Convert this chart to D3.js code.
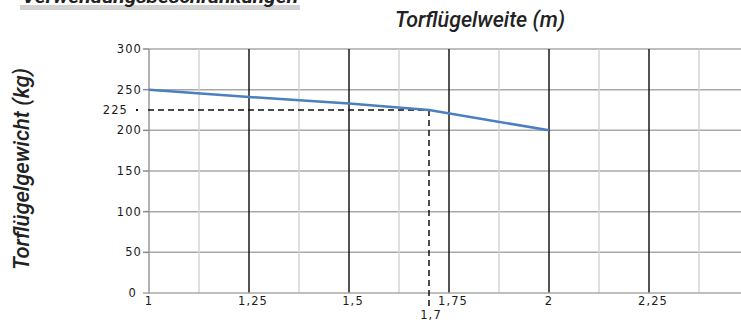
<!DOCTYPE html>
<html><head><meta charset="utf-8">
<script src="https://cdn.jsdelivr.net/npm/d3@7"></script>
<style>
html,body{margin:0;padding:0;background:#fff;}
svg{display:block;}
</style></head>
<body>
<svg id="c" width="741" height="325"></svg>
<script>
const widths = [1, 1.25, 1.5, 1.7, 2];
const weights = [250, 241, 233, 225, 200];
const xMajorTicks = [1, 1.25, 1.5, 1.75, 2, 2.25];
const xTickLabels = ["1", "1,25", "1,5", "1,75", "2", "2,25"];
const xMinorTicks = [1.125, 1.375, 1.625, 1.875, 2.125, 2.375];
const yTicks = [0, 50, 100, 150, 200, 250, 300];
const markX = 1.7, markY = 225;
const markXLabel = "1,7", markYLabel = "225";

const svg = d3.select("#c");
const x = d3.scaleLinear().domain([1, 2.48]).range([149, 741]);
const y = d3.scaleLinear().domain([0, 300]).range([293, 49]);

// cut-off heading at top
svg.append("rect").attr("x", 20).attr("y", 5).attr("width", 280).attr("height", 5).attr("fill", "#d2d2d2");
svg.append("text").attr("x", 22).attr("y", 3)
  .attr("font-family", "Roboto,'Liberation Sans',sans-serif")
  .attr("font-style", "italic").attr("font-weight", "bold").attr("font-size", 18)
  .attr("textLength", 276).attr("lengthAdjust", "spacingAndGlyphs")
  .attr("fill", "#222").text("Verwendungsbeschränkungen");

// horizontal gridlines
svg.append("g").selectAll("line").data(yTicks.filter(d => d > 0)).join("line")
  .attr("x1", x(1)).attr("x2", 741).attr("y1", d => y(d)).attr("y2", d => y(d))
  .attr("stroke", "#a8a8a8").attr("stroke-width", 1.5);

// minor vertical gridlines
svg.append("g").selectAll("line").data(xMinorTicks).join("line")
  .attr("x1", d => x(d)).attr("x2", d => x(d)).attr("y1", y(300)).attr("y2", y(0))
  .attr("stroke", "#d4d4d4").attr("stroke-width", 1.5);

// major vertical gridlines
svg.append("g").selectAll("line").data(xMajorTicks.slice(1)).join("line")
  .attr("x1", d => x(d)).attr("x2", d => x(d)).attr("y1", y(300)).attr("y2", y(0))
  .attr("stroke", "#1a1a1a").attr("stroke-width", 1.5);

// axes lines
svg.append("line").attr("x1", x(1)).attr("x2", x(1)).attr("y1", y(300)).attr("y2", y(0) + 1)
  .attr("stroke", "#9a9a9a").attr("stroke-width", 1.5);
svg.append("line").attr("x1", x(1) - 6).attr("x2", 741).attr("y1", y(0)).attr("y2", y(0))
  .attr("stroke", "#a8a8a8").attr("stroke-width", 1.5);
svg.append("g").selectAll("line").data(yTicks.slice(1)).join("line")
  .attr("x1", x(1) - 6).attr("x2", x(1)).attr("y1", d => y(d)).attr("y2", d => y(d))
  .attr("stroke", "#8a8a8a").attr("stroke-width", 1.5);

const tickFont = "'DejaVu Sans',Verdana,sans-serif";
const tickSize = 11.5, tickSpacing = 1.1;
// y tick labels
svg.append("g").selectAll("text").data(yTicks).join("text")
  .attr("x", d => d === 0 ? 137 : 142).attr("y", d => y(d)).attr("dy", "0.35em")
  .attr("text-anchor", "end").attr("font-family", tickFont).attr("font-size", tickSize)
  .attr("letter-spacing", tickSpacing).attr("fill", "#1a1a1a").text(d => d);

// x tick labels
svg.append("g").selectAll("text").data(xMajorTicks).join("text")
  .attr("x", (d, i) => x(d) + (xTickLabels[i].length > 1 ? 4 : 0)).attr("y", 305)
  .attr("text-anchor", "middle").attr("font-family", tickFont).attr("font-size", tickSize)
  .attr("letter-spacing", tickSpacing).attr("fill", "#1a1a1a").text((d, i) => xTickLabels[i]);

// dashed guide lines
svg.append("line").attr("x1", 148).attr("x2", x(markX)).attr("y1", y(markY)).attr("y2", y(markY))
  .attr("stroke", "#111").attr("stroke-width", 1.5).attr("stroke-dasharray", "6,4");
svg.append("rect").attr("x", 136).attr("y", y(markY) - 1).attr("width", 2).attr("height", 2).attr("fill", "#111");
svg.append("line").attr("x1", x(markX)).attr("x2", x(markX)).attr("y1", y(markY)).attr("y2", 306)
  .attr("stroke", "#111").attr("stroke-width", 1.5).attr("stroke-dasharray", "6,4");
svg.append("text").attr("x", 128).attr("y", y(markY)).attr("dy", "0.35em")
  .attr("text-anchor", "end").attr("font-family", tickFont).attr("font-size", tickSize)
  .attr("letter-spacing", tickSpacing).attr("fill", "#1a1a1a").text(markYLabel);
svg.append("text").attr("x", x(markX) + 2).attr("y", 319)
  .attr("text-anchor", "middle").attr("font-family", tickFont).attr("font-size", tickSize)
  .attr("letter-spacing", tickSpacing).attr("fill", "#1a1a1a").text(markXLabel);

// data line
svg.append("path").datum(widths.map((w, i) => [w, weights[i]]))
  .attr("d", d3.line().x(d => x(d[0])).y(d => y(d[1])))
  .attr("fill", "none").attr("stroke", "#4a7fc0").attr("stroke-width", 2.5);

// axis titles
const titleFont = "Roboto,'Liberation Sans',Arial,sans-serif";
svg.append("text").attr("x", 395).attr("y", 27)
  .attr("font-family", titleFont).attr("font-style", "italic").attr("font-weight", 500).attr("font-size", 22)
  .attr("textLength", 170).attr("lengthAdjust", "spacingAndGlyphs")
  .attr("fill", "#222").text("Torflügelweite (m)");
svg.append("text").attr("transform", "translate(29,270) rotate(-90)")
  .attr("font-family", titleFont).attr("font-style", "italic").attr("font-weight", 500).attr("font-size", 22)
  .attr("textLength", 202).attr("lengthAdjust", "spacingAndGlyphs")
  .attr("fill", "#222").text("Torflügelgewicht (kg)");
</script>
</body></html>
